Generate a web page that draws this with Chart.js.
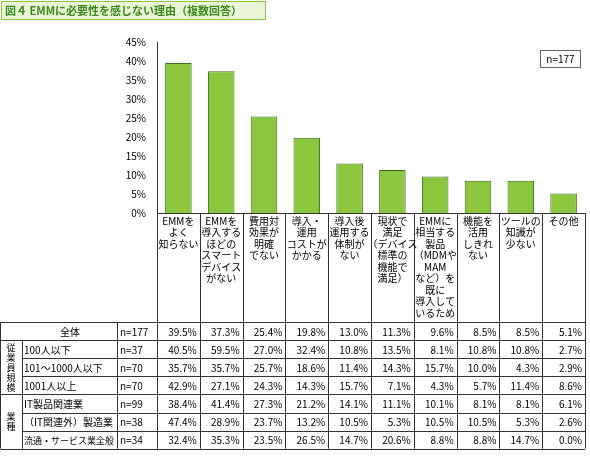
<!DOCTYPE html>
<html><head><meta charset="utf-8">
<script src="https://cdn.jsdelivr.net/npm/chart.js@4"></script>
<style>html,body{margin:0;padding:0;background:#fff}#w{width:590px;height:466px;position:relative}</style>
</head><body><div id="w"><canvas id="c"></canvas></div>
<script>
const categories=[["EMMを","よく","知らない"],["EMMを","導入する","ほどの","スマート","デバイス","がない"],["費用対","効果が","明確","でない"],["導入・","運用","コストが","かかる"],["導入後","運用する","体制が","ない"],["現状で","満足","（デバイス","標準の","機能で","満足）"],["EMMに","相当する","製品","（MDMや","MAM","など）を","既に","導入して","いるため"],["機能を","活用","しきれ","ない"],["ツールの","知識が","少ない"],["その他"]];
const overall=[39.5,37.3,25.4,19.8,13.0,11.3,9.6,8.5,8.5,5.1];
const yTicks=[0,5,10,15,20,25,30,35,40,45];
const rowGroups=["","従業員規模","業種"];
const rowNames=["全体","100人以下","101～1000人以下","1001人以上","IT製品関連業","（IT関連外）製造業","流通・サービス業全般"];
const rowN=["n=177","n=37","n=70","n=70","n=99","n=38","n=34"];
const rowValues=[
[39.5,37.3,25.4,19.8,13.0,11.3,9.6,8.5,8.5,5.1],
[40.5,59.5,27.0,32.4,10.8,13.5,8.1,10.8,10.8,2.7],
[35.7,35.7,25.7,18.6,11.4,14.3,15.7,10.0,4.3,2.9],
[42.9,27.1,24.3,14.3,15.7,7.1,4.3,5.7,11.4,8.6],
[38.4,41.4,27.3,21.2,14.1,11.1,10.1,8.1,8.1,6.1],
[47.4,28.9,23.7,13.2,10.5,5.3,10.5,10.5,5.3,2.6],
[32.4,35.3,23.5,26.5,14.7,20.6,8.8,8.8,14.7,0.0]];
const FONT='"Noto Sans CJK JP", sans-serif';
const deco={id:'deco',afterDraw(ch){
 const c=ch.ctx,xs=ch.scales.x,a=ch.chartArea;
 c.save();
 c.fillStyle='#eaf5d8';c.fillRect(1,1,265,19);c.strokeStyle='#8cc63f';c.lineWidth=1;c.strokeRect(1.5,1.5,264,18);
 c.fillStyle='#3a8a1a';c.font='bold 11px '+FONT;c.textBaseline='middle';c.textAlign='left';
 c.fillText('図４ EMMに必要性を感じない理由（複数回答）',5,11);
 c.strokeStyle='#666';c.strokeRect(540.5,50.5,40,17);c.fillStyle='#000';c.font='10px '+FONT;c.textAlign='center';c.fillText('n=177',560.5,59);
 const colW=(a.right-a.left)/categories.length;
 const tTop=322,rH=18.1,tBot=tTop+rH*7;
 c.strokeStyle='#333';c.lineWidth=1;
 c.beginPath();c.moveTo(a.left,Math.round(a.bottom)+0.5);c.lineTo(a.right,Math.round(a.bottom)+0.5);c.stroke();
 for(let i=0;i<=categories.length;i++){const x=Math.round(a.left+i*colW)+0.5;c.beginPath();c.moveTo(x,a.bottom);c.lineTo(x,tBot);c.stroke();}
 c.fillStyle='#000';c.font='10px '+FONT;c.textAlign='center';c.textBaseline='top';
 categories.forEach((l,i)=>{const x=xs.getPixelForValue(i);l.forEach((s,j)=>c.fillText(s,x,216+j*11.5));});
 const hl=(y,x0)=>{c.beginPath();c.moveTo(x0,Math.round(y)+0.5);c.lineTo(a.right,Math.round(y)+0.5);c.stroke();};
 hl(tTop,0.5);
 for(let r=1;r<=7;r++){const x0=(r===4||r===7)?0.5:22.5;hl(tTop+r*rH,r===1?0.5:x0);}
 [0.5,117.5,157.5].forEach(x=>{c.beginPath();c.moveTo(x,tTop);c.lineTo(x,tBot);c.stroke();});
 c.beginPath();c.moveTo(22.5,tTop+rH);c.lineTo(22.5,tBot);c.stroke();
 c.textBaseline='middle';
 rowNames.forEach((nm,r)=>{const y=tTop+r*rH+rH/2+1;
  c.font=(r===6?'9px ':'10px ')+FONT;
  c.textAlign=r===0?'center':'left';c.fillText(nm,r===0?70:24,y,92);
  c.font='10px '+FONT;
  c.textAlign='left';c.fillText(rowN[r],120,y);
  c.textAlign='right';rowValues[r].forEach((v,i)=>c.fillText(v.toFixed(1)+'%',a.left+(i+1)*colW-3,y));});
 c.textAlign='center';c.font='9px '+FONT;
 [[1,4],[4,7]].forEach(([s,e],g)=>{const t=rowGroups[g+1];const cy=tTop+(s+e)/2*rH;const n=t.length;t.split('').forEach((ch2,k)=>c.fillText(ch2,11,cy+(k-(n-1)/2)*10));});
 c.restore();}};
new Chart(document.getElementById('c'),{type:'bar',
 data:{labels:categories.map(l=>l.join('')),datasets:[{data:overall,backgroundColor:'#8cc63f',borderColor:'#3d6b1a',borderWidth:1,barPercentage:0.62,categoryPercentage:1}]},
 options:{responsive:true,maintainAspectRatio:false,animation:false,devicePixelRatio:1,
  layout:{padding:{top:42,bottom:253,left:0,right:5}},
  plugins:{legend:{display:false},tooltip:{enabled:false}},
  scales:{x:{display:false},
   y:{min:0,max:45,afterFit:s=>{s.width=157;},afterBuildTicks:s=>{s.ticks=yTicks.map(v=>({value:v}));},
    border:{color:'#333'},grid:{display:false},
    ticks:{callback:v=>v+'%',color:'#000',font:{size:10,family:FONT}}}}},
 plugins:[deco]});
</script></body></html>
